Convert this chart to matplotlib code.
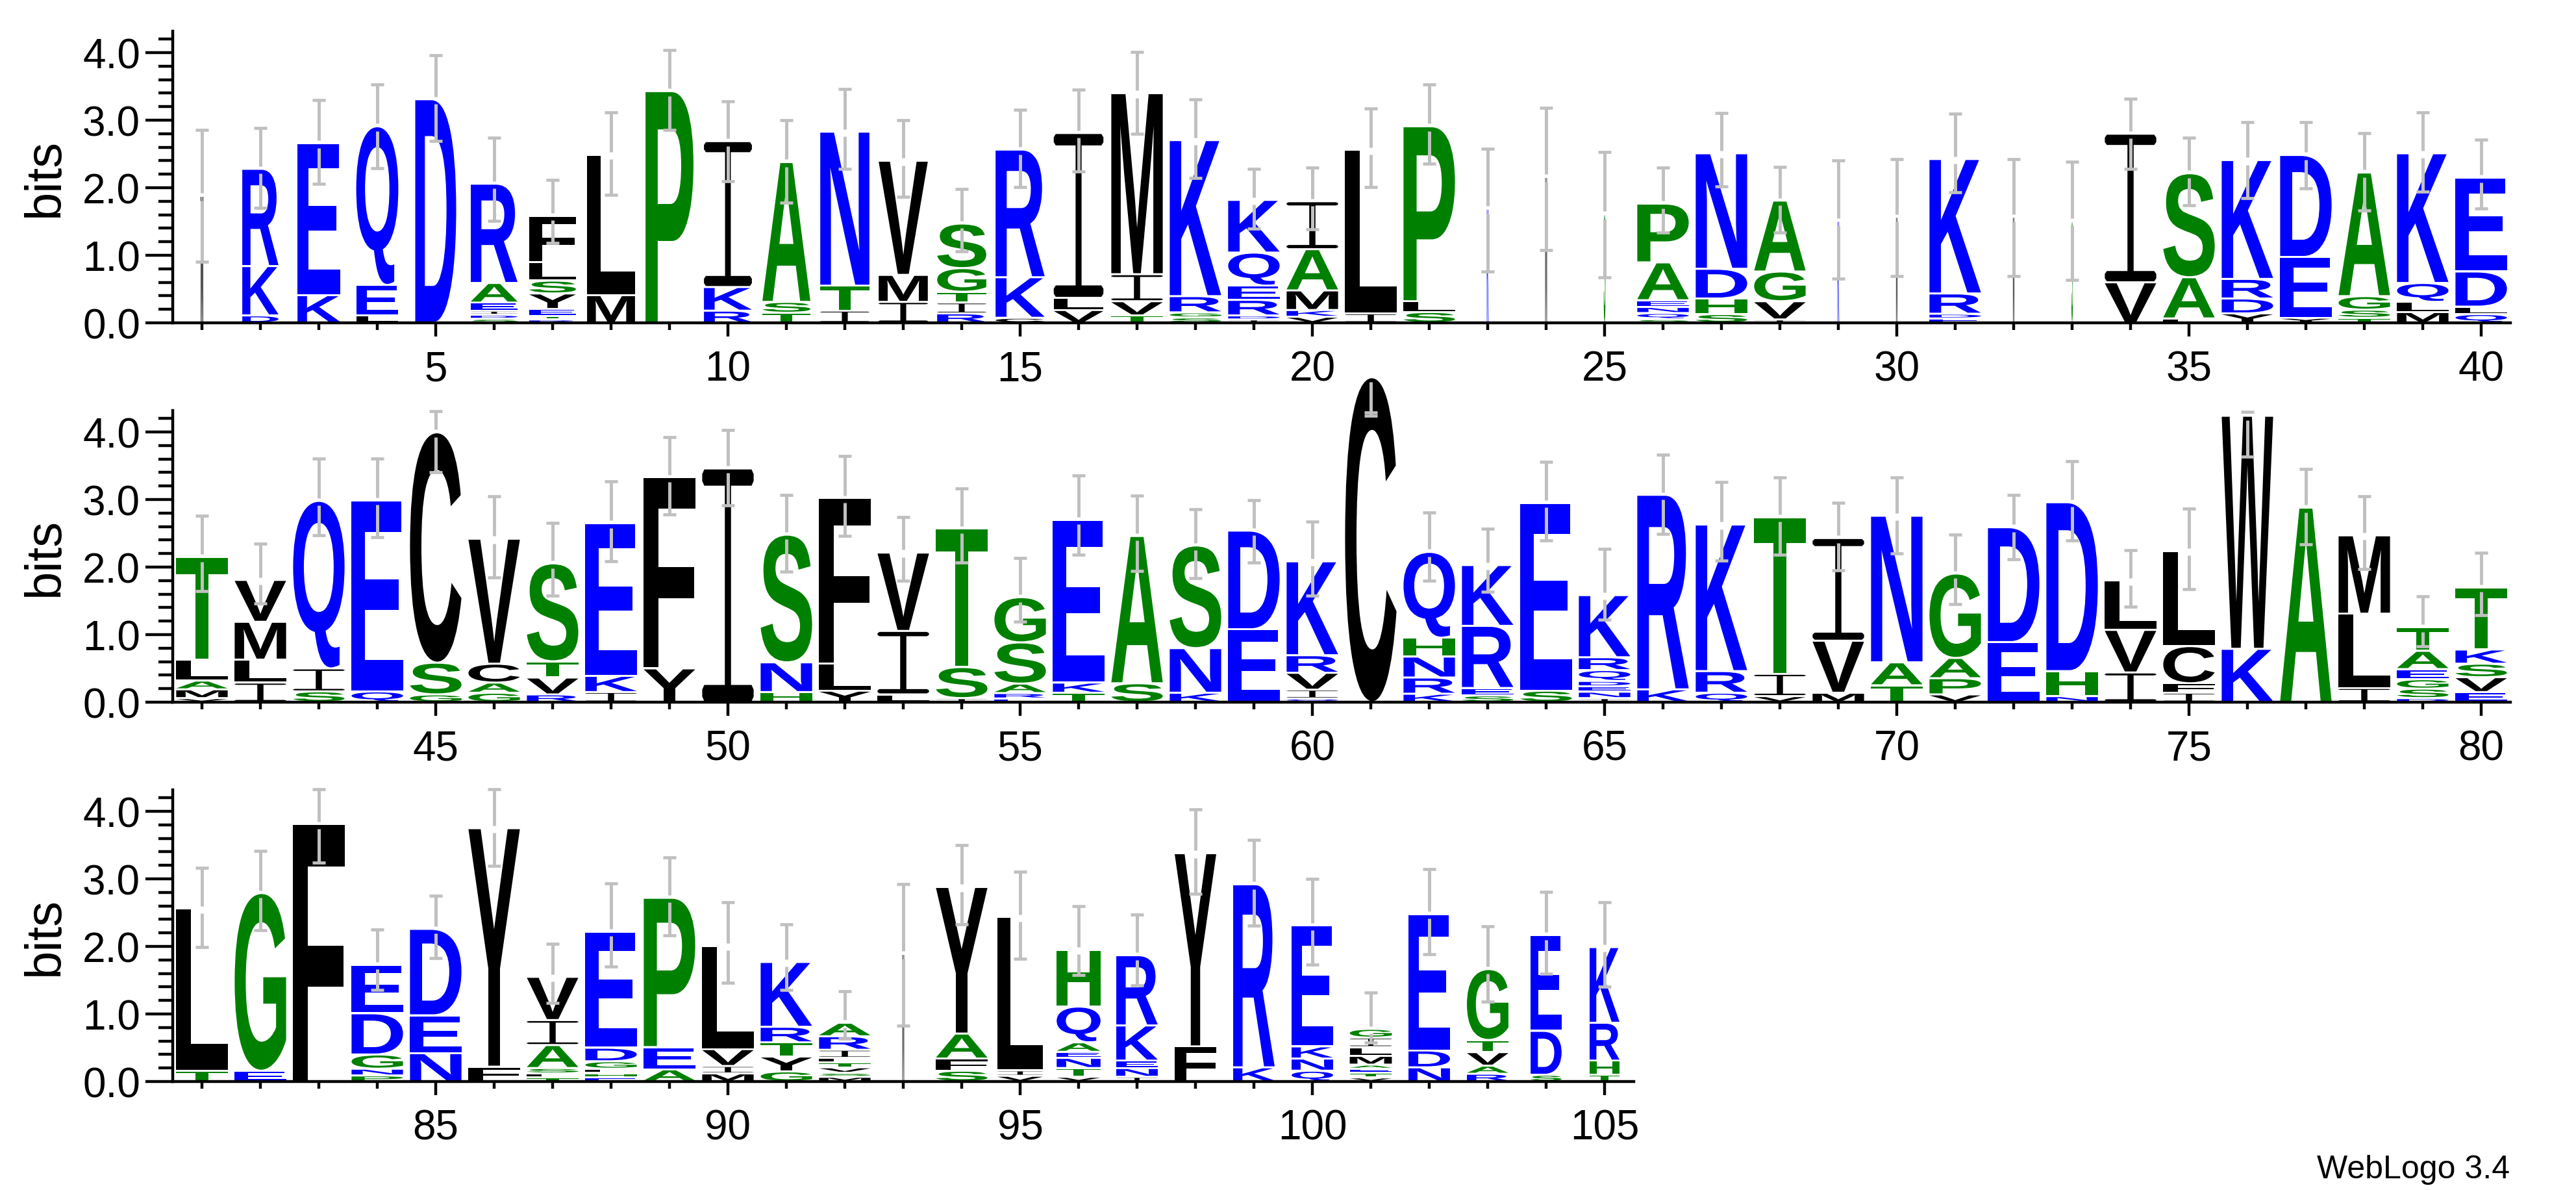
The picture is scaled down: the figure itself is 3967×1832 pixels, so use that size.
import matplotlib
matplotlib.use("Agg")
import matplotlib.pyplot as plt
from matplotlib.textpath import TextPath
from matplotlib.patches import PathPatch
from matplotlib.path import Path
from matplotlib.font_manager import FontProperties
from matplotlib.transforms import Affine2D
from matplotlib.ticker import MultipleLocator

plt.rcParams['font.family'] = ['Liberation Sans', 'DejaVu Sans']

# letter stacks per position, bottom to top, "letter:bits"
row1_stacks = [
    "M:1.85", "D:0.08 K:0.70 R:1.41", "K:0.38 E:2.22", "L:0.08 E:0.42 Q:2.32", "D:3.28",
    "S:0.03 D:0.03 I:0.03 E:0.09 A:0.26 R:1.44", "R:0.02 T:0.025 E:0.07 Y:0.20 S:0.16 L:0.24 F:0.66",
    "M:0.38 L:2.05", "P:3.40", "R:0.15 K:0.32 I:2.13",
    "T:0.12 S:0.13 A:2.04", "I:0.15 T:0.34 N:2.25", "I:0.28 M:0.37 V:1.66",
    "R:0.11 I:0.13 T:0.13 G:0.32 S:0.63", "C:0.045 K:0.57 R:1.86",
    "V:0.16 L:0.15 I:2.41", "T:0.08 V:0.18 I:0.37 M:2.65", "S:0.05 G:0.045 R:0.21 K:2.28",
    "I:0.02 D:0.03 R:0.20 E:0.18 Q:0.46 K:0.75", "V:0.06 K:0.07 M:0.26 A:0.58 I:0.68",
    "I:0.11 L:2.39", "S:0.13 L:0.13 P:2.56", "K:1.66", "M:2.13", "S:1.58",
    "S:0.025 Q:0.06 N:0.06 E:0.07 A:0.53 P:0.84", "S:0.10 H:0.20 D:0.41 N:1.68",
    "I:0.02 V:0.24 G:0.41 A:1.02", "K:1.48", "M:1.54",
    "E:0.035 D:0.04 R:0.27 K:1.96", "M:1.54", "S:1.48", "V:0.57 I:2.17", "L:0.035 A:0.58 S:1.51",
    "Y:0.11 D:0.19 R:0.26 K:1.73", "Y:0.045 E:0.87 D:1.48", "T:0.045 S:0.09 G:0.17 A:1.80",
    "M:0.13 L:0.12 Q:0.25 K:1.89", "Q:0.10 L:0.08 D:0.49 E:1.36",
]
row2_stacks = [
    "V:0.03 M:0.10 A:0.10 L:0.28 T:1.49", "I:0.26 L:0.31 M:0.53 V:0.59", "S:0.13 I:0.31 Q:2.45",
    "Q:0.13 E:2.80", "G:0.085 S:0.44 C:3.38", "G:0.11 A:0.12 C:0.25 V:1.82",
    "R:0.085 V:0.22 T:0.21 S:1.42", "I:0.12 K:0.21 E:2.23", "Y:0.47 F:2.80", "I:3.43",
    "H:0.12 N:0.41 S:1.86", "Y:0.14 L:0.37 F:2.42", "L:0.085 I:0.91 V:1.13", "I:0.03 S:0.43 T:2.02",
    "E:0.025 R:0.05 A:0.11 S:0.58 G:0.64", "T:0.11 K:0.12 E:2.38", "S:0.25 A:2.15",
    "K:0.11 N:0.63 S:1.49", "E:1.05 D:1.43", "Q:0.025 I:0.10 V:0.22 R:0.23 K:1.36",
    "C:4.78", "K:0.095 R:0.21 N:0.28 H:0.25 Q:1.24", "S:0.07 E:0.08 R:0.89 K:0.87",
    "S:0.14 E:2.75", "I:0.03 N:0.065 E:0.05 D:0.05 Q:0.13 R:0.16 K:0.89", "K:0.16 R:2.85",
    "Q:0.11 R:0.29 K:2.14", "V:0.06 I:0.30 T:2.29", "M:0.11 V:0.74 I:1.49", "T:0.22 A:0.31 N:2.14",
    "V:0.085 P:0.21 A:0.27 G:1.22", "E:0.86 D:1.67", "N:0.06 H:0.34 D:2.47", "I:0.41 V:0.60 L:0.70",
    "I:0.11 F:0.11 C:0.52 L:1.38", "K:0.76 W:3.42", "A:2.85", "I:0.18 L:1.07 M:1.13",
    "D:0.03 S:0.11 G:0.11 E:0.12 A:0.24 T:0.32", "E:0.12 V:0.19 S:0.17 K:0.18 T:0.89",
]
row3_stacks = [
    "T:0.13 L:2.37", "E:0.13 G:2.60", "F:3.78", "P:0.06 N:0.07 G:0.18 D:0.58 E:0.69",
    "N:0.39 E:0.53 D:1.25", "F:0.19 Y:3.50", "T:0.03 L:0.03 S:0.05 A:0.31 I:0.34 V:0.61",
    "E:0.03 H:0.035 L:0.035 G:0.08 D:0.17 E:1.69", "A:0.15 E:0.30 P:2.18",
    "M:0.09 I:0.08 V:0.22 L:1.50", "G:0.12 Y:0.19 T:0.18 R:0.20 K:0.93",
    "M:0.04 S:0.03 V:0.05 T:0.04 L:0.04 I:0.09 R:0.17 A:0.17", "M:1.86",
    "S:0.13 F:0.15 A:0.34 Y:2.14", "V:0.055 I:0.05 L:2.24",
    "V:0.04 T:0.10 N:0.12 E:0.06 A:0.11 Q:0.50 H:0.81", "I:0.04 N:0.10 E:0.08 K:0.49 R:1.01",
    "F:0.49 Y:2.83", "K:0.18 R:2.68", "Q:0.13 N:0.15 K:0.15 E:1.76",
    "V:0.03 T:0.04 E:0.03 A:0.03 M:0.10 L:0.10 I:0.11 G:0.10", "N:0.18 D:0.22 E:1.99",
    "R:0.085 A:0.09 V:0.17 T:0.15 G:1.02", "S:0.07 D:0.62 E:1.39", "T:0.07 H:0.18 R:0.53 K:1.09",
]

err_low = [
    0.90, 1.70, 2.06, 2.29, 2.69, 1.51, 1.18, 1.89, 2.86, 2.10,
    1.78, 2.28, 1.87, 1.06, 2.01, 2.24, 2.80, 2.14, 1.39, 1.38,
    2.01, 2.36, 0.76, 1.08, 0.67, 1.34, 2.02, 1.34, 0.65, 0.69,
    1.93, 0.69, 0.63, 2.28, 1.74, 1.85, 1.99, 1.66, 1.94, 1.69,
    1.64, 1.46, 2.47, 2.44, 3.40, 1.85, 1.58, 2.09, 2.78, 2.91,
    1.93, 2.46, 1.80, 2.07, 1.19, 2.18, 1.94, 1.84, 2.07, 1.58,
    4.24, 1.80, 1.63, 2.39, 1.22, 2.49, 2.10, 2.18, 1.95, 2.20,
    1.45, 2.12, 2.39, 1.41, 1.67, 3.63, 2.34, 1.97, 0.83, 1.29,
    1.99, 2.24, 3.24, 1.36, 1.83, 3.19, 1.16, 1.70, 2.16, 1.46,
    1.36, 0.63, 0.83, 2.33, 1.82, 1.58, 1.42, 2.78, 2.31, 1.73,
    0.58, 1.88, 1.18, 1.60, 1.40,
]
err_high = [
    2.86, 2.88, 3.30, 3.53, 3.96, 2.74, 2.12, 3.12, 4.04, 3.28,
    3.00, 3.46, 3.00, 1.98, 3.15, 3.45, 4.01, 3.31, 2.28, 2.30,
    3.17, 3.53, 2.58, 3.18, 2.53, 2.30, 3.11, 2.31, 2.40, 2.42,
    3.10, 2.42, 2.38, 3.32, 2.74, 2.97, 2.97, 2.81, 3.12, 2.71,
    2.76, 2.35, 3.61, 3.61, 4.31, 3.05, 2.65, 3.27, 3.92, 4.03,
    3.07, 3.64, 2.74, 3.16, 2.13, 3.36, 3.06, 2.86, 2.99, 2.67,
    4.29, 2.81, 2.57, 3.56, 2.27, 3.66, 3.26, 3.33, 2.95, 3.33,
    2.48, 3.07, 3.57, 2.25, 2.87, 4.30, 3.45, 3.05, 1.57, 2.21,
    3.16, 3.41, 4.33, 2.25, 2.75, 4.33, 2.04, 2.93, 3.32, 2.65,
    2.33, 1.34, 2.92, 3.50, 3.11, 2.60, 2.47, 4.03, 3.58, 3.00,
    1.32, 3.14, 2.30, 2.81, 2.65,
]

# stack width (fraction of a column) where it differs from the usual one
stack_width = {
    1: 0.045, 2: 0.62, 3: 0.73, 4: 0.72, 5: 0.70, 6: 0.80, 7: 0.80, 8: 0.82, 9: 0.82,
    10: 0.82, 11: 0.82, 12: 0.84, 13: 0.84, 14: 0.84, 15: 0.84, 16: 0.85,
    23: 0.03, 24: 0.03, 25: 0.03, 29: 0.03, 30: 0.025, 32: 0.025, 33: 0.025, 93: 0.03,
    95: 0.78, 96: 0.75, 97: 0.71, 98: 0.71, 99: 0.71, 100: 0.71, 101: 0.72, 102: 0.71,
    103: 0.71, 104: 0.53, 105: 0.51,
}
full_width = 0.88

rows = [(1, 40, row1_stacks), (41, 80, row2_stacks), (81, 105, row3_stacks)]

BLUE, GREEN, BLACK = '#0000ff', '#008000', '#000000'
colors = {}
for c in 'DEKRNQ':
    colors[c] = BLUE
for c in 'AGHPST':
    colors[c] = GREEN
for c in 'CFILMVWY':
    colors[c] = BLACK

fp = FontProperties(family='Liberation Sans', weight='bold')
glyphs = {}


def serif_i():
    b = 0.07
    s0, s1 = 0.44, 0.56
    verts = [(0.04, 0), (0.96, 0), (1, 0.02), (1, b - 0.02), (0.96, b), (s1, b), (s1, 1 - b),
             (0.96, 1 - b), (1, 1 - b + 0.02), (1, 0.98), (0.96, 1), (0.04, 1), (0, 0.98),
             (0, 1 - b + 0.02), (0.04, 1 - b), (s0, 1 - b), (s0, b), (0.04, b), (0, b - 0.02),
             (0, 0.02), (0.04, 0)]
    codes = [Path.MOVETO] + [Path.LINETO] * (len(verts) - 2) + [Path.CLOSEPOLY]
    return Path(verts, codes)


def glyph(ch):
    if ch not in glyphs:
        glyphs[ch] = serif_i() if ch == 'I' else TextPath((0, 0), ch, size=1, prop=fp)
    return glyphs[ch]


def draw_letter(ax, ch, x0, y0, w, h):
    p = glyph(ch)
    bb = p.get_extents()
    tr = Affine2D().translate(-bb.x0, -bb.y0).scale(w / bb.width, h / bb.height).translate(x0, y0)
    ax.add_patch(PathPatch(tr.transform_path(p), fc=colors[ch], ec='none', lw=0, clip_on=False))


def draw_err(ax, x, top, lo, hi):
    gray = '#c0c0c0'
    g = 0.055
    kw = dict(color=gray, lw=3.6, solid_capstyle='butt', clip_on=False, zorder=3)
    if lo < top - g:
        ax.plot([x, x], [lo, top - g], **kw)
    if hi > top + g:
        ax.plot([x, x], [top + g, hi], **kw)
    for yv in (lo, hi):
        ax.plot([x - 0.115, x + 0.115], [yv, yv], color=gray, lw=3.4, solid_capstyle='butt',
                clip_on=False, zorder=3)


W, H = 3967, 1833
fig = plt.figure(figsize=(W / 100, H / 100), dpi=100)

ax_left = 266 / W
ax_h = 4.32 * 104 / H
baselines = [498, 1082, 1666]

for (first, last, stacks), base in zip(rows, baselines):
    ncol = last - first + 1
    ax = fig.add_axes([ax_left, (H - base) / H, ncol * 90 / W, ax_h])
    ax.set_xlim(first - 0.5, last + 0.5)
    ax.set_ylim(0, 4.32)
    for pos, stack in zip(range(first, last + 1), stacks):
        w = stack_width.get(pos, full_width)
        y = 0.015
        for tok in stack.split():
            ch, val = tok.split(':')
            h = float(val)
            draw_letter(ax, ch, pos - w / 2, y, w, h)
            y += h + 0.03
        top = y - 0.03
        draw_err(ax, pos, top, err_low[pos - 1], err_high[pos - 1])

    for s in ('top', 'right'):
        ax.spines[s].set_visible(False)
    for s in ('left', 'bottom'):
        ax.spines[s].set_linewidth(3.2)
        ax.spines[s].set_zorder(4)
    major = [p for p in range(first, last + 1) if p % 5 == 0]
    ax.set_xticks(major, labels=[str(p) for p in major])
    ax.set_xticks(list(range(first, last + 1)), minor=True)
    ax.set_yticks([0, 1, 2, 3, 4], labels=['0.0', '1.0', '2.0', '3.0', '4.0'])
    ax.yaxis.set_minor_locator(MultipleLocator(0.2))
    ax.tick_params(axis='x', which='major', length=15, width=3.2, pad=15, labelsize=46)
    ax.tick_params(axis='x', which='minor', length=8, width=3.2)
    ax.tick_params(axis='y', which='major', length=30, width=3.2, pad=6, labelsize=46)
    ax.tick_params(axis='y', which='minor', length=16, width=3.2)
    fig.text(69 / W, (H - base + 4.32 * 104 / 2) / H, 'bits', rotation=90,
             ha='center', va='center', fontsize=56)

fig.text(3865 / W, (H - 1801) / H, 'WebLogo 3.4', ha='right', va='center', fontsize=36)

fig.savefig('out.png', dpi=100)
